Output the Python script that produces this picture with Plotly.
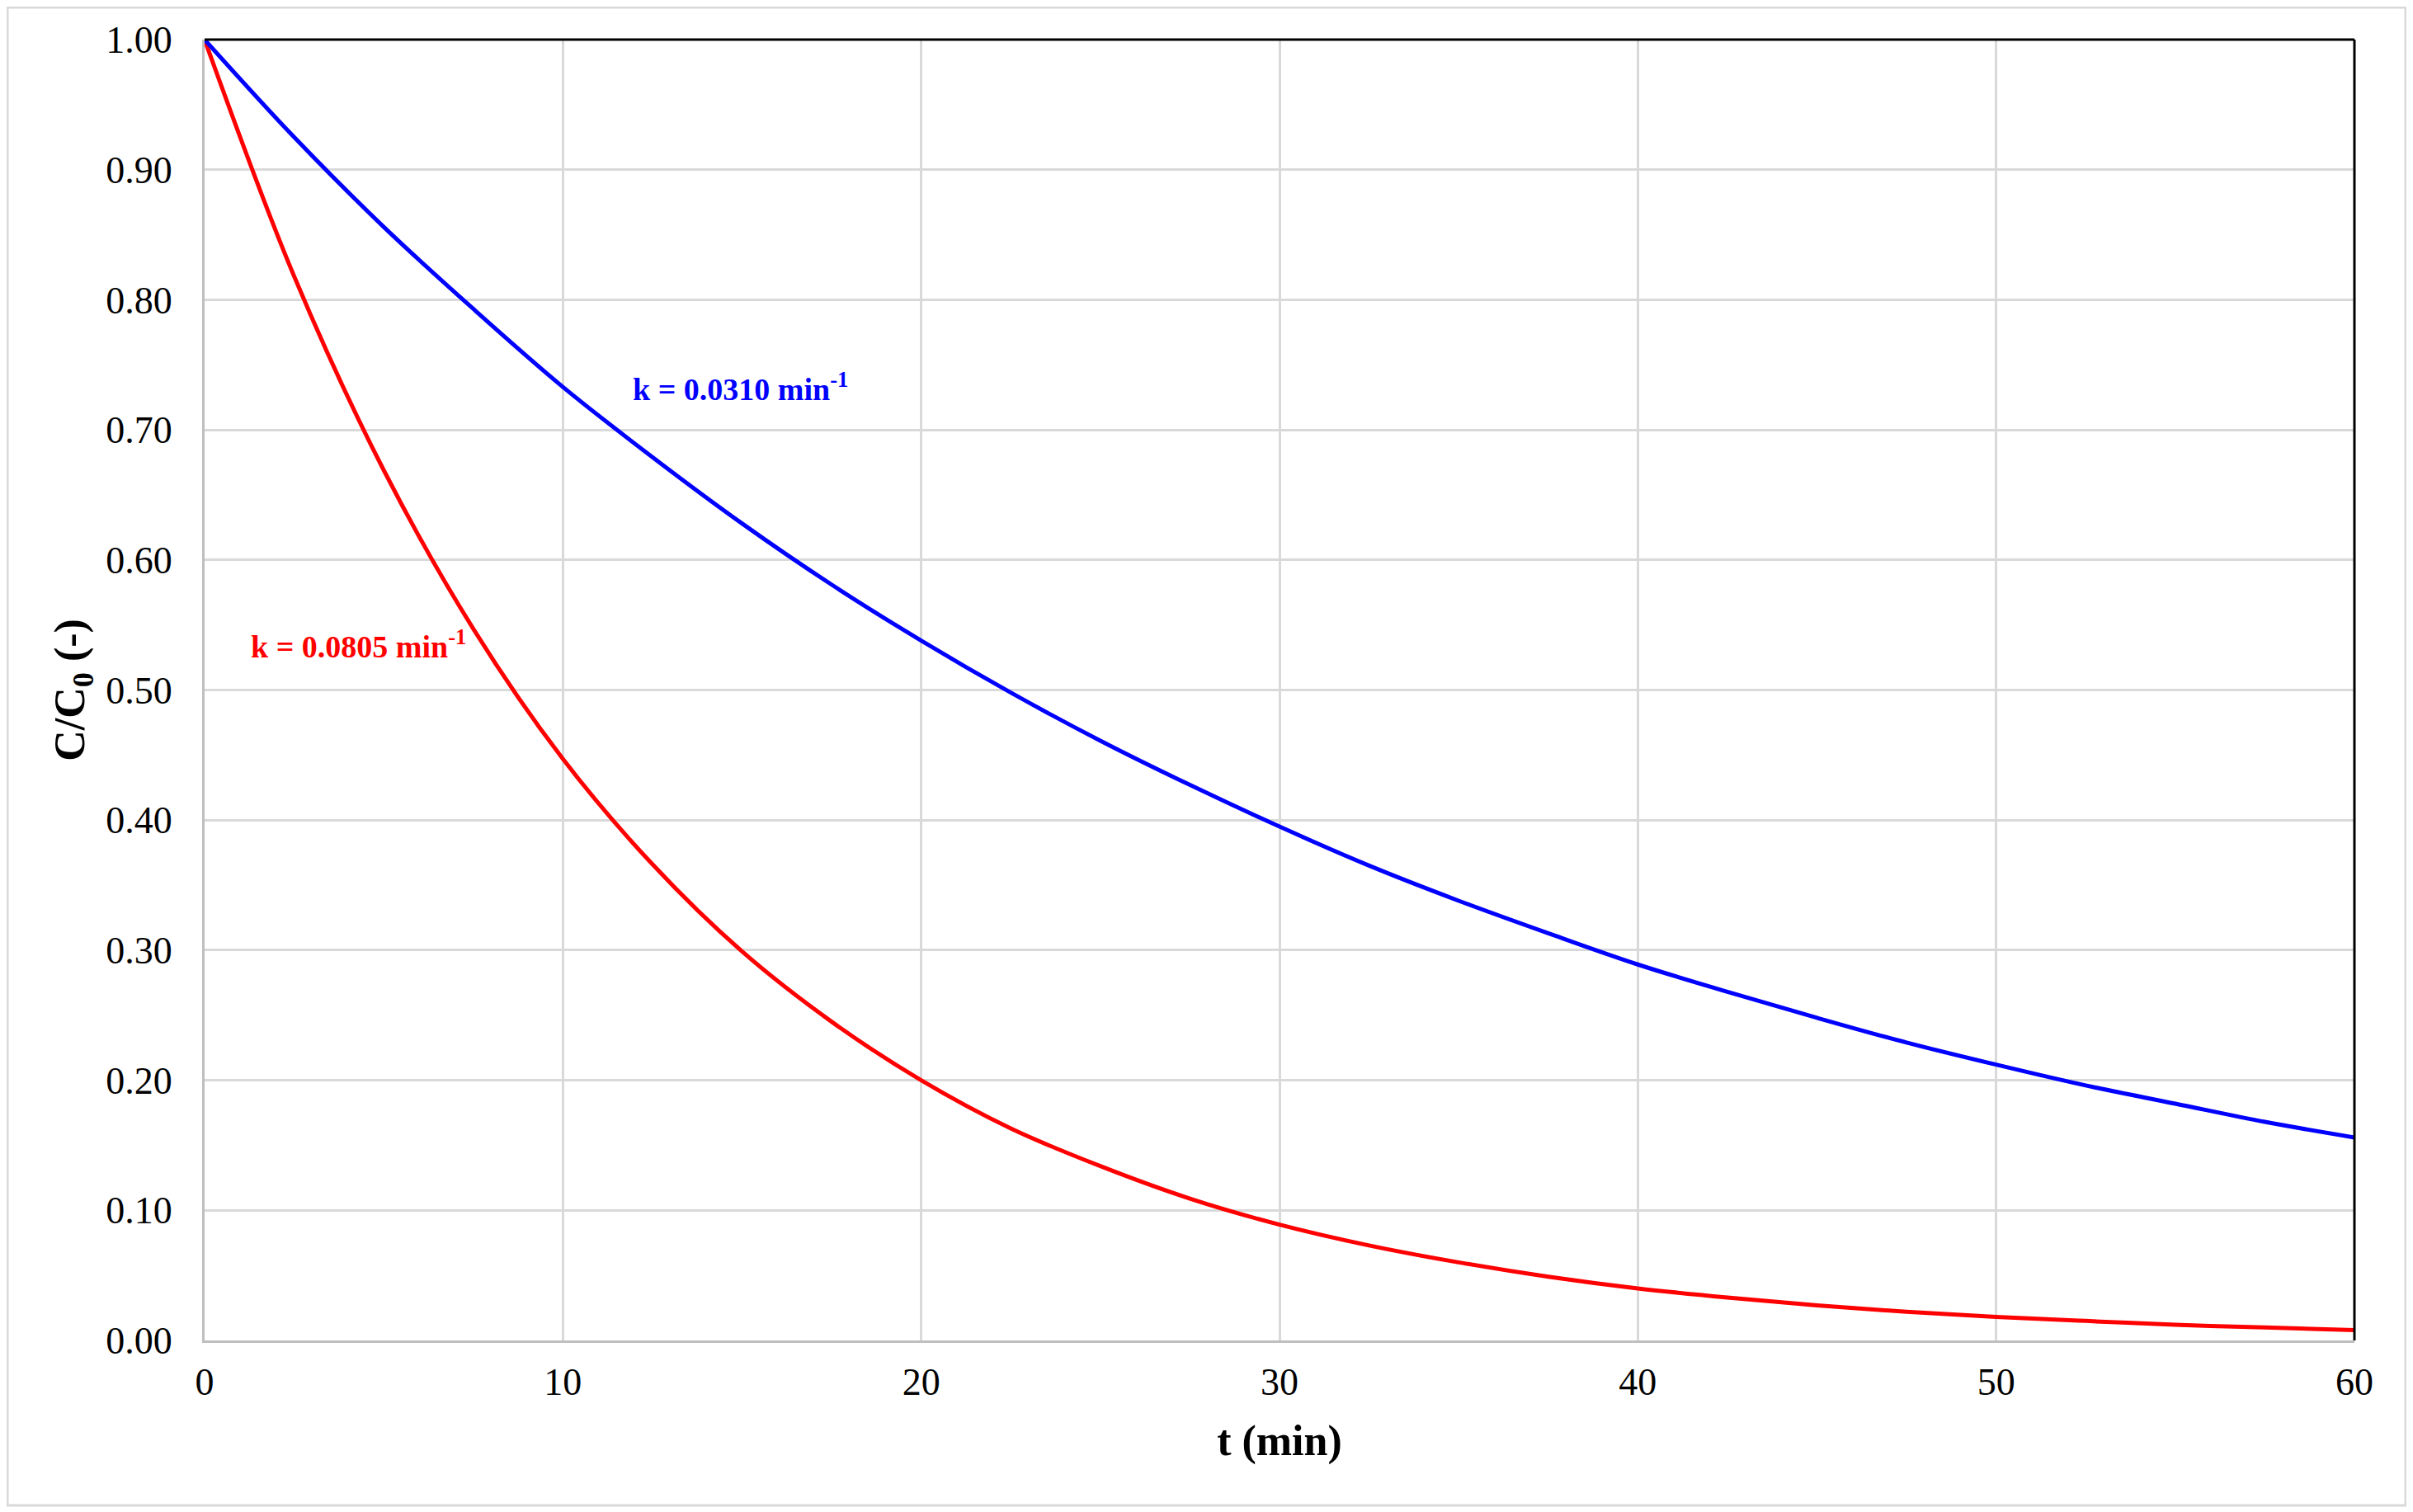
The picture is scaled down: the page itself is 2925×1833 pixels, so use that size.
import plotly.graph_objects as go

t_min = [0, 2.5, 5, 7.5, 10, 12.5, 15, 17.5, 20, 22.5, 25, 27.5, 30, 32.5, 35,
         37.5, 40, 42.5, 45, 47.5, 50, 52.5, 55, 57.5, 60]
c_blue = [1.00, 0.925, 0.856, 0.793, 0.733, 0.679, 0.628, 0.581, 0.538, 0.498,
          0.461, 0.427, 0.395, 0.365, 0.338, 0.313, 0.289, 0.268, 0.248, 0.229,
          0.212, 0.196, 0.182, 0.168, 0.156]
c_red = [1.00, 0.818, 0.669, 0.547, 0.447, 0.366, 0.299, 0.245, 0.200, 0.163,
         0.134, 0.109, 0.089, 0.073, 0.060, 0.049, 0.040, 0.033, 0.027, 0.022,
         0.018, 0.015, 0.012, 0.010, 0.008]
label_blue = "k = 0.0310 min<sup>-1</sup>"
label_red = "k = 0.0805 min<sup>-1</sup>"

FONT = "Liberation Serif"

fig = go.Figure()
fig.add_trace(go.Scatter(x=t_min, y=c_red, mode="lines", line=dict(color="#ff0000", width=5, shape="spline"), showlegend=False))
fig.add_trace(go.Scatter(x=t_min, y=c_blue, mode="lines", line=dict(color="#0000ff", width=5, shape="spline"), showlegend=False))

fig.add_annotation(x=11.9, y=0.733, text=label_blue, showarrow=False, xanchor="left", yanchor="middle",
                   font=dict(family=FONT, size=38, color="#0000ff", weight="bold"))
fig.add_annotation(x=1.24, y=0.535, text=label_red, showarrow=False, xanchor="left", yanchor="middle",
                   font=dict(family=FONT, size=38, color="#ff0000", weight="bold"))

# top and right black frame lines
fig.add_shape(type="line", xref="paper", yref="paper", x0=0, x1=1, y0=1, y1=1, line=dict(color="black", width=3))
fig.add_shape(type="line", xref="paper", yref="paper", x0=1, x1=1, y0=0, y1=1, line=dict(color="black", width=3))
# outer chart border
fig.add_shape(type="rect", xref="paper", yref="paper", x0=-0.0917, x1=1.0238, y0=-0.1268, y1=1.0247,
              line=dict(color="#d9d9d9", width=3), layer="below")

fig.update_layout(
    width=2925, height=1833,
    margin=dict(l=240, r=79, t=40, b=216),
    paper_bgcolor="white", plot_bgcolor="white",
    font=dict(family=FONT, size=46, color="black"),
    xaxis=dict(range=[0, 60], dtick=10, tick0=0, showgrid=True, gridcolor="#d9d9d9", gridwidth=3,
               showline=True, linecolor="#bfbfbf", linewidth=3, zeroline=False,
               ticks="", ticklabelstandoff=8,
               title=dict(text="<b>t (min)</b>", font=dict(family=FONT, size=52), standoff=28)),
    yaxis=dict(range=[0, 1], dtick=0.1, tick0=0, tickformat=".2f", showgrid=True, gridcolor="#d9d9d9", gridwidth=3,
               showline=True, linecolor="#bfbfbf", linewidth=3, zeroline=False,
               ticks="", ticklabelstandoff=27,
               title=dict(text="<b>C/C<sub>0</sub> (-)</b>", font=dict(family=FONT, size=52), standoff=10)),
)

fig.write_html("out.html")
